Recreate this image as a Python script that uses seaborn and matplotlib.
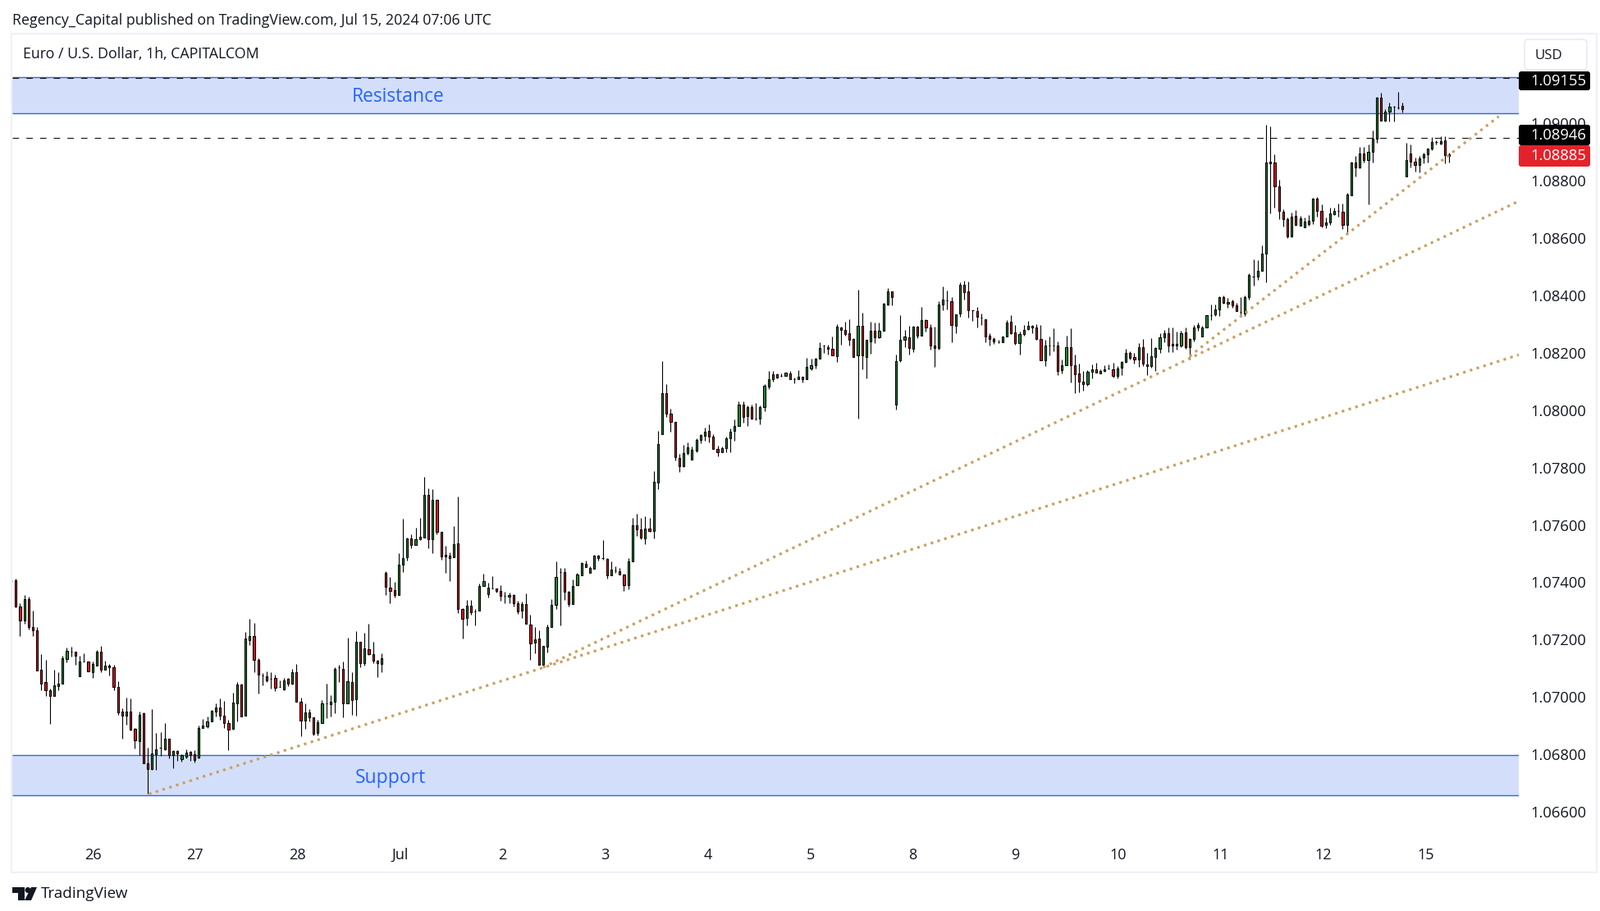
import numpy as np
import pandas as pd
import matplotlib
matplotlib.use("Agg")
import matplotlib.pyplot as plt
import matplotlib.transforms as mtransforms
from matplotlib.patches import Rectangle, FancyBboxPatch, Polygon, Circle
import seaborn as sns

# Hourly EUR/USD candles, in 1e-5 price points
opens = [
107405,107406,107316,107266,107342,107244,107233,107095,107052,107024,
107005,107040,107046,107134,107158,107158,107074,107124,107124,107088,
107111,107158,107097,107109,107104,107035,106949,106937,106949,106890,
106848,106943,106771,106750,106802,106823,106818,106857,106799,106813,
106785,106793,106809,106801,106790,106893,106898,106917,106950,106965,
106937,106911,106891,106980,107045,106937,107200,107212,107131,107077,
107074,107063,107066,107036,107027,107063,107047,107086,106985,106918,
106948,106931,106875,106911,106980,106976,106985,107103,107100,106980,
107054,106993,107192,107119,107166,107151,107126,107116,107433,107382,
107373,107355,107461,107487,107554,107530,107549,107556,107703,107550,
107686,107577,107490,107494,107487,107537,107307,107276,107319,107300,
107301,107387,107358,107379,107379,107370,107352,107349,107356,107327,
107301,107325,107253,107189,107204,107114,107177,107244,107321,107436,
107436,107368,107324,107389,107425,107465,107433,107448,107494,107485,
107482,107425,107442,107439,107428,107389,107474,107600,107585,107554,
107588,107580,107746,107916,108060,107988,107959,107833,107804,107850,
107827,107858,107896,107910,107928,107908,107865,107853,107867,107901,
107928,107945,108020,107979,108011,107970,107970,108011,108082,108107,
108123,108118,108120,108128,108107,108106,108117,108106,108145,108157,
108180,108223,108220,108214,108187,108288,108280,108266,108248,108190,
108294,108185,108239,108277,108253,108277,108368,108412,108019,108172,
108245,108254,108214,108291,108260,108314,108286,108223,108217,108368,
108382,108380,108294,108337,108437,108412,108346,108343,108322,108317,
108260,108248,108235,108237,108257,108306,108271,108233,108263,108282,
108294,108288,108248,108174,108224,108224,108223,108139,108157,108220,
108157,108128,108099,108090,108134,108142,108128,108137,108145,108142,
108119,108148,108168,108200,108185,108177,108220,108160,108154,108185,
108214,108254,108268,108225,108231,108225,108271,108220,108248,108288,
108257,108288,108330,108334,108351,108392,108369,108380,108363,108342,
108337,108394,108465,108464,108484,108544,108865,108862,108779,108690,
108665,108604,108676,108642,108636,108648,108659,108736,108693,108645,
108653,108682,108692,108690,108645,108748,108862,108845,108894,108871,
108900,108943,109086,109006,109040,109057,109053,109060,108814,108894,
108865,108854,108880,108891,108911,108934,108928,108940,108891]
closes = [
107405,107317,107266,107342,107243,107232,107094,107048,107023,107005,
107041,107046,107135,107161,107158,107143,107124,107124,107091,107115,
107158,107097,107109,107103,107037,106948,106937,106949,106887,106851,
106940,106770,106749,106803,106820,106823,106857,106799,106812,106805,
106798,106806,106799,106782,106892,106902,106917,106954,106965,106937,
106911,106888,106980,107043,106934,107203,107212,107131,107080,107077,
107059,107063,107034,107036,107060,107047,107086,106984,106918,106948,
106930,106873,106914,106980,106980,106985,107100,107103,106980,107057,
106991,107192,107119,107169,107151,107126,107120,107137,107384,107369,
107355,107462,107485,107554,107530,107551,107559,107703,107550,107686,
107576,107490,107496,107484,107534,107306,107272,107319,107295,107300,
107388,107405,107382,107379,107369,107352,107352,107356,107327,107298,
107325,107255,107186,107201,107114,107178,107244,107322,107419,107436,
107367,107324,107388,107428,107468,107452,107451,107494,107484,107485,
107425,107445,107442,107428,107389,107474,107600,107585,107556,107588,
107579,107749,107882,108060,107987,107959,107836,107805,107851,107871,
107862,107896,107914,107925,107908,107864,107853,107868,107902,107925,
107945,108020,107976,108011,107970,107970,108011,108083,108108,108123,
108114,108118,108131,108108,108107,108117,108106,108149,108157,108180,
108217,108223,108213,108190,108291,108280,108265,108245,108185,108294,
108190,108243,108277,108253,108277,108369,108412,108393,108171,108245,
108257,108217,108291,108260,108314,108288,108223,108217,108366,108383,
108382,108297,108334,108435,108409,108346,108346,108323,108322,108257,
108247,108240,108235,108257,108303,108268,108233,108263,108280,108294,
108286,108247,108174,108225,108224,108224,108137,108157,108220,108157,
108125,108099,108090,108134,108142,108131,108137,108142,108145,108119,
108145,108168,108200,108182,108176,108220,108162,108154,108188,108217,
108254,108268,108225,108231,108223,108268,108220,108248,108288,108297,
108288,108329,108330,108351,108392,108372,108377,108363,108343,108342,
108394,108470,108465,108484,108544,108862,108859,108779,108693,108665,
108604,108673,108645,108668,108656,108659,108736,108693,108642,108653,
108685,108693,108692,108645,108751,108862,108845,108894,108871,108900,
108943,109086,109006,109040,109057,109057,109053,109046,108871,108865,
108854,108877,108891,108911,108934,108934,108937,108888,108885]
highs = [
107417,107412,107327,107356,107351,107302,107244,107151,107131,107031,
107096,107088,107145,107173,107176,107158,107145,107153,107124,107125,
107165,107179,107128,107116,107113,107056,106961,106999,106996,106893,
106949,106947,106824,106959,106876,106878,106910,106857,106817,106817,
106801,106820,106813,106817,106902,106925,106934,106957,106980,106997,
106988,106922,107017,107052,107048,107227,107272,107260,107137,107083,
107091,107086,107080,107060,107066,107066,107100,107117,107000,106980,
106960,106931,106922,106990,107048,107008,107103,107114,107125,107206,
107086,107229,107192,107223,107255,107192,107131,107154,107439,107419,
107402,107502,107621,107557,107568,107591,107625,107767,107728,107723,
107688,107577,107528,107505,107597,107700,107310,107339,107339,107307,
107396,107431,107399,107422,107379,107390,107368,107365,107359,107336,
107333,107362,107287,107244,107233,107178,107253,107342,107474,107451,
107451,107370,107411,107433,107471,107476,107456,107496,107496,107548,
107485,107474,107456,107451,107428,107485,107623,107640,107625,107631,
107625,107786,107926,108169,108091,108005,107959,107848,107879,107888,
107874,107902,107917,107939,107951,107917,107876,107874,107908,107937,
107968,108031,108031,108017,108020,108023,108017,108091,108137,108137,
108128,108126,108131,108137,108114,108140,108117,108181,108180,108181,
108235,108227,108227,108257,108300,108291,108306,108317,108251,108420,
108340,108245,108306,108303,108303,108372,108423,108412,108194,108329,
108280,108294,108294,108294,108360,108317,108300,108291,108380,108429,
108417,108394,108334,108443,108449,108446,108346,108360,108337,108317,
108266,108254,108245,108257,108314,108331,108297,108274,108297,108311,
108297,108300,108297,108243,108257,108283,108240,108177,108260,108283,
108194,108162,108137,108139,108160,108165,108142,108157,108160,108165,
108154,108171,108214,108205,108200,108234,108248,108200,108251,108220,
108268,108280,108288,108286,108274,108277,108286,108251,108297,108303,
108294,108331,108366,108366,108397,108400,108389,108383,108374,108394,
108400,108476,108525,108521,108573,108992,108986,108891,108802,108699,
108670,108688,108697,108676,108670,108679,108739,108742,108716,108670,
108705,108705,108719,108719,108756,108865,108885,108917,108917,108923,
108974,109089,109103,109046,109069,109060,109106,109071,108931,108923,
108880,108885,108897,108911,108951,108940,108954,108954,108897]
lows = [
107393,107314,107212,107255,107235,107212,107094,107025,107005,106908,
107005,107023,107046,107122,107142,107113,107074,107123,107091,107066,
107109,107088,107097,107076,107025,106939,106856,106904,106885,106822,
106799,106770,106663,106748,106748,106796,106815,106788,106753,106779,
106776,106788,106779,106773,106788,106893,106893,106917,106934,106922,
106894,106815,106888,106917,106934,106937,107181,107087,107012,107041,
107052,107029,107021,107035,107024,107038,107044,106984,106864,106890,
106917,106867,106868,106911,106926,106933,106944,107053,106930,106980,
106938,106935,107105,107111,107148,107119,107070,107087,107355,107326,
107347,107355,107435,107475,107520,107530,107547,107556,107518,107501,
107566,107478,107432,107404,107487,107292,107203,107249,107286,107249,
107301,107387,107347,107378,107364,107335,107326,107326,107315,107289,
107275,107255,107129,107152,107112,107104,107157,107244,107306,107249,
107338,107315,107324,107389,107425,107452,107433,107448,107475,107479,
107412,107425,107433,107428,107369,107375,107474,107561,107550,107533,
107576,107553,107724,107916,107976,107924,107825,107784,107802,107844,
107827,107853,107884,107893,107887,107864,107838,107853,107852,107852,
107893,107945,107956,107944,107967,107964,107950,107996,108073,108098,
108111,108116,108119,108106,108093,108106,108096,108106,108139,108145,
108180,108199,108192,108190,108167,108227,108260,108224,108184,107969,
108141,108110,108197,108233,108250,108277,108365,108365,108002,108168,
108220,108193,108202,108250,108260,108273,108210,108150,108210,108348,
108349,108236,108267,108323,108385,108322,108311,108287,108296,108236,
108224,108230,108234,108237,108257,108263,108228,108193,108260,108280,
108266,108245,108174,108153,108190,108204,108121,108127,108157,108096,
108058,108061,108067,108084,108110,108130,108127,108133,108141,108113,
108110,108121,108165,108177,108161,108150,108154,108121,108147,108136,
108199,108236,108202,108202,108210,108220,108213,108177,108239,108276,
108257,108288,108314,108326,108326,108369,108357,108357,108343,108323,
108326,108383,108432,108453,108484,108443,108685,108705,108664,108639,
108599,108601,108642,108642,108636,108642,108647,108673,108635,108632,
108645,108679,108672,108630,108613,108748,108814,108842,108862,108716,
108862,108931,109006,109003,109005,109005,109046,109037,108814,108845,
108831,108828,108859,108862,108905,108923,108923,108859,108862]

day_ticks = [19.1,43.1,67.2,91.3,115.5,139.6,163.7,187.8,211.9,236.0,260.1,284.3,308.4,332.5]
day_labels = ["26","27","28","Jul","2","3","4","5","8","9","10","11","12","15"]
price_ticks = [1.066,1.068,1.070,1.072,1.074,1.076,1.078,1.080,1.082,1.084,1.086,1.088,1.090]

resistance_zone = [1.09033, 1.09160]
support_zone = [1.06658, 1.06800]
trend_a_x, trend_a_y = [32.3, 354.4], [1.06663, 1.08192]
trend_b_x, trend_b_y = [125.0, 354.4], [1.07104, 1.08727]
trend_c_x, trend_c_y = [277.0, 349.7], [1.08187, 1.09022]
dashed_levels = [1.09155, 1.08946]

W, H = 1950, 1110
FONT = "Open Sans"
INK = "#131722"
sns.set_theme(style="white", rc={"font.family": FONT, "axes.linewidth": 0})

fig = plt.figure(figsize=(W / 100, H / 100), dpi=100, facecolor="white")
px = mtransforms.Affine2D().scale(1 / W, -1 / H).translate(0, 1) + fig.transFigure

L, R, T, B = 15, 1851, 45, 1022
Y090 = 149.5
ax = fig.add_axes([L / W, 1 - B / H, (R - L) / W, (B - T) / H])
ax.set_facecolor("none")
ax.set_xlim(0.17, 354.4)
ax.set_ylim(1.09 - (B - Y090) / 35000, 1.09 + (Y090 - T) / 35000)

# zones
zone_fill, zone_edge = "#d3dffa", "#2a66e8"
for lo, hi in (resistance_zone, support_zone):
    ax.axhspan(lo, hi, facecolor=zone_fill, edgecolor="none", zorder=1)
    ax.hlines([lo, hi], 0.17, 354.4, color=zone_edge, lw=1.0, zorder=1.5)
ax.hlines(dashed_levels, 0.17, 354.4, color="#111111", lw=0.8,
          linestyles=[(0, (7, 8))], zorder=2)

# candles
x = np.arange(len(opens))
o, h, l, c = [np.array(a) / 1e5 for a in (opens, highs, lows, closes)]
body_col = np.where(c >= o, "#1b9230", "#e4101f")
ax.vlines(x, l, h, color="black", lw=0.8, zorder=3)
ax.bar(x, np.abs(c - o), bottom=np.minimum(o, c), width=0.42, color=body_col,
       edgecolor="black", linewidth=0.8, zorder=4)

# trend lines
for tx, ty in ((trend_a_x, trend_a_y), (trend_b_x, trend_b_y), (trend_c_x, trend_c_y)):
    sns.lineplot(x=tx, y=ty, ax=ax, color="#c9a063", lw=2.3, errorbar=None, legend=False,
                 linestyle=(0, (1, 1.7)), dash_capstyle="butt", zorder=5)

ax.set_xlabel(""); ax.set_ylabel("")
ax.set_xticks(day_ticks); ax.set_xticklabels(day_labels)
ax.set_yticks(price_ticks); ax.set_yticklabels([f"{v:.5f}" for v in price_ticks])
ax.yaxis.tick_right()
ax.tick_params(axis="x", length=0, pad=8, labelsize=13, labelcolor=INK)
ax.tick_params(axis="y", length=0, pad=10, labelsize=13.2, labelcolor=INK)
ax.set_xlim(0.17, 354.4)
sns.despine(ax=ax, left=True, bottom=True, right=True, top=True)

ax.text(90.9, 1.09090, "Resistance", color="#2962ff", fontsize=16.5, ha="center", va="center", zorder=6)
ax.text(89.1, 1.06720, "Support", color="#2962ff", fontsize=16.5, ha="center", va="center", zorder=6)

# frame and header
fig.add_artist(Rectangle((14, 41), 1932, 1022, transform=px, fill=False, edgecolor="#eff1f6", lw=1.6, zorder=0.5))
fig.text(15 / W, 1 - 25 / H, "Regency_Capital published on TradingView.com, Jul 15, 2024 07:06 UTC",
         fontsize=12.8, color=INK, va="center", ha="left")
fig.text(27.5 / W, 1 - 66 / H, "Euro / U.S. Dollar, 1h, CAPITALCOM",
         fontsize=12.75, color=INK, va="center", ha="left")
fig.add_artist(FancyBboxPatch((1858, 48), 76, 37, boxstyle="round,pad=0,rounding_size=5", transform=px,
                              facecolor="white", edgecolor="#e6e8ee", lw=1, zorder=1))
fig.text(1887 / W, 1 - 68 / H, "USD", fontsize=12.2, color=INK, va="center", ha="center", zorder=3)

# price labels
def price_box(top, bottom, text, colour):
    fig.add_artist(FancyBboxPatch((1851, top), 87, bottom - top, boxstyle="round,pad=0,rounding_size=3",
                                  transform=px, facecolor=colour, edgecolor="none", zorder=2))
    fig.text(1865 / W, 1 - ((top + bottom) / 2) / H, text, fontsize=13.2, color="white",
             va="center", ha="left", zorder=3)

price_box(87, 110, "1.09155", "#000000")
price_box(152, 177, "1.08946", "#000000")
price_box(177, 203, "1.08885", "#e4222b")

# publisher mark
logo_col = "#131722"
fig.add_artist(Polygon([(15, 1081), (30, 1081), (30, 1097), (22, 1097), (22, 1088), (15, 1088)],
                       closed=True, transform=px, facecolor=logo_col, edgecolor="none", zorder=2))
fig.add_artist(Circle((34, 1084.5), 3.5, transform=px, facecolor=logo_col, edgecolor="none", zorder=2))
fig.add_artist(Polygon([(38, 1081), (45, 1081), (38, 1097), (30, 1097)],
                       closed=True, transform=px, facecolor=logo_col, edgecolor="none", zorder=2))
fig.text(50 / W, 1 - 1089 / H, "TradingView", fontsize=13.6, color=INK, va="center", ha="left", zorder=3)

fig.savefig("out.png", dpi=100, facecolor="white")
